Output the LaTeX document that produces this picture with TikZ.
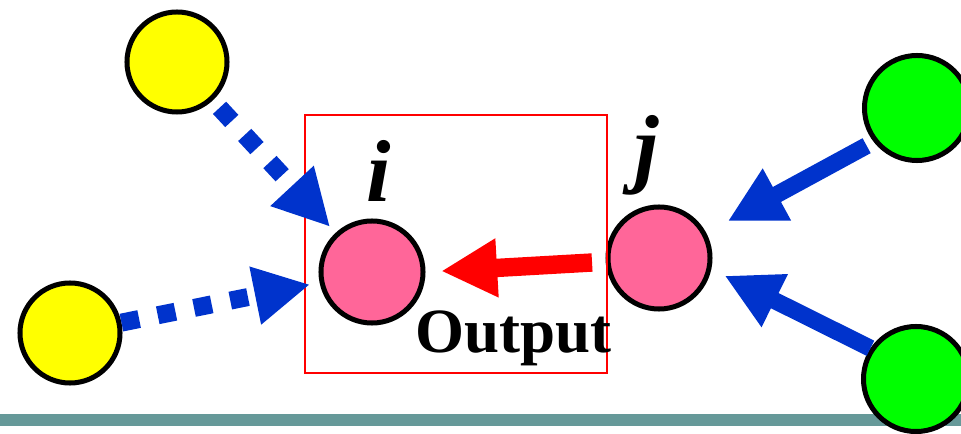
\documentclass[tikz,border=0pt]{standalone}
\usepackage{fontspec}
\setmainfont{Liberation Serif}
\usetikzlibrary{arrows.meta}
\definecolor{nyellow}{HTML}{FFFF00}
\definecolor{npink}{HTML}{FF6699}
\definecolor{ngreen}{HTML}{00FF00}
\definecolor{nblue}{HTML}{0033CC}
\definecolor{nred}{HTML}{FF0000}
\definecolor{nteal}{HTML}{669999}
\tikzset{
  neuron/.style={circle, draw=black, line width=0.125cm, inner sep=0pt},
  yneuron/.style={neuron, fill=nyellow, minimum size=2.5cm},
  pneuron/.style={neuron, fill=npink, minimum size=2.55cm},
  gneuron/.style={neuron, fill=ngreen, minimum size=2.625cm},
  bigtip/.style={-{Triangle[length=1.4cm,width=1.375cm]}},
  dotarrow/.style={bigtip, draw=nblue, line width=0.45cm, dash pattern=on 0.45cm off 0.475cm},
  greenarrow/.style={bigtip, draw=nblue, line width=0.425cm},
  redarrow/.style={bigtip, draw=nred, line width=0.46cm},
  lbl/.style={inner sep=0pt, anchor=base, text=black}
}
\begin{document}
\begin{tikzpicture}[x=0.025cm, y=0.025cm]
\useasboundingbox (0,0) rectangle (961,434);
% bottom rule
\coordinate (rl) at (0,14);
\coordinate (rr) at (961,14);
\draw[nteal, line width=0.275cm] (rl) -- (rr);
% nodes
\node[yneuron] (yt) at (177,372) {};
\node[yneuron] (yb) at (70,101) {};
\node[pneuron] (i) at (372,162) {};
\node[pneuron] (j) at (659,176) {};
\node[gneuron] (g1) at (917,326) {};
\node[gneuron] (g2) at (916,55) {};
% frame around i
\node[draw=nred, line width=0.03cm, minimum width=7.55cm, minimum height=6.45cm, inner sep=0pt] (frame) at (456,190) {};
% labels
\node[lbl, font=\bfseries\itshape\fontsize{62.6}{70}\selectfont] (li) at (379,232) {i};
\node[lbl, font=\bfseries\itshape\fontsize{62.6}{70}\selectfont] (lj) at (647,257) {j};
\node[lbl, font=\bfseries\fontsize{44.8}{50}\selectfont] (lout) at (513.5,81) {Output};
% connectors
\draw[dotarrow, shorten <=0.25cm, shorten >=0.2cm] (yt) -- (i);
\draw[dotarrow, shorten >=0.24cm] (yb) -- (i);
\draw[redarrow, shorten <=0.34cm, shorten >=0.39cm] (j.184) -- (i.east);
\draw[greenarrow, shorten <=0.2cm, shorten >=0.61cm] (g1.218) -- (j.28);
\draw[greenarrow, shorten >=0.37cm] (g2.146) -- (j.-12);
\end{tikzpicture}
\end{document}
